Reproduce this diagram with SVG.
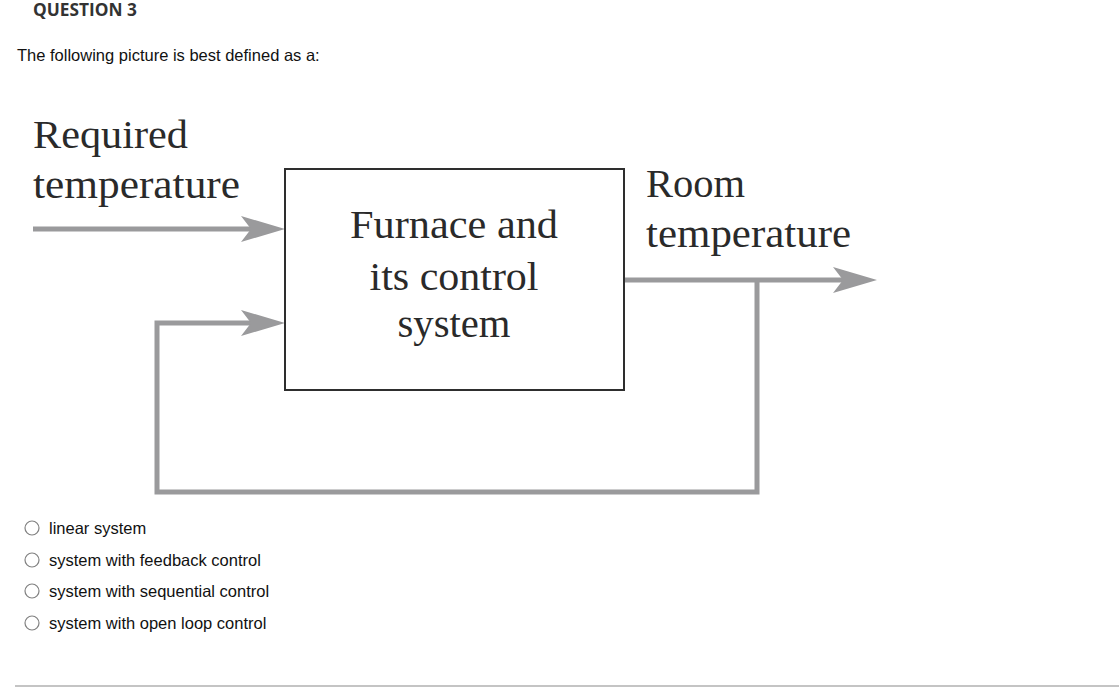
<svg xmlns="http://www.w3.org/2000/svg" width="1119" height="687" viewBox="0 0 1119 687">
<style>
.hdr{font-family:"Open Sans","Liberation Sans",sans-serif;font-weight:bold;font-size:17.3px;fill:#333}
.q{font-family:"Liberation Sans",Arial,sans-serif;font-size:16.5px;fill:#111}
.fig{font-family:"Liberation Serif","Times New Roman",serif;font-size:40px;fill:#2a2a2a}
.wire{fill:none;stroke:#9a9a9c;stroke-width:5;stroke-linejoin:miter}
.radio{fill:#fff;stroke:#808080;stroke-width:1.2}
</style>
<defs>
<marker id="ah" markerUnits="userSpaceOnUse" viewBox="-14 -15 48 30" markerWidth="48" markerHeight="30" refX="0" refY="0" orient="auto">
<path d="M32,0 L-12,-13 L-2,0 L-12,13 Z" fill="#9a9a9c"/>
</marker>
</defs>
<rect width="1119" height="687" fill="#fff"/>
<text class="hdr" x="33" y="16">QUESTION 3</text>
<text class="q" x="17" y="61">The following picture is best defined as a:</text>

<g id="connectors">
<line class="wire" x1="33" y1="229" x2="253" y2="229" marker-end="url(#ah)"/>
<line class="wire" x1="624" y1="280" x2="845" y2="280" marker-end="url(#ah)"/>
<polyline class="wire" points="757,280 757,492 157,492 157,323 253,323" marker-end="url(#ah)"/>
</g>

<g id="required-label">
<text class="fig" x="33" y="148" textLength="155" lengthAdjust="spacingAndGlyphs">Required</text>
<text class="fig" x="33" y="198" textLength="207" lengthAdjust="spacingAndGlyphs">temperature</text>
</g>

<g id="furnace">
<rect x="285" y="169" width="339" height="221" fill="#fff" stroke="#2e2e2e" stroke-width="2"/>
<text class="fig" x="454" y="238" text-anchor="middle" textLength="208" lengthAdjust="spacingAndGlyphs">Furnace and</text>
<text class="fig" x="454" y="290" text-anchor="middle" textLength="169" lengthAdjust="spacingAndGlyphs">its control</text>
<text class="fig" x="454" y="337" text-anchor="middle" textLength="113" lengthAdjust="spacingAndGlyphs">system</text>
</g>

<g id="room-label">
<text class="fig" x="646" y="197" textLength="99" lengthAdjust="spacingAndGlyphs">Room</text>
<text class="fig" x="646" y="247" textLength="205" lengthAdjust="spacingAndGlyphs">temperature</text>
</g>

<g id="options">
<circle class="radio" cx="32" cy="528" r="7"/>
<text class="q" x="49" y="534">linear system</text>
<circle class="radio" cx="32" cy="560" r="7"/>
<text class="q" x="49" y="566">system with feedback control</text>
<circle class="radio" cx="32" cy="591" r="7"/>
<text class="q" x="49" y="597">system with sequential control</text>
<circle class="radio" cx="32" cy="623" r="7"/>
<text class="q" x="49" y="629">system with open loop control</text>
</g>
<line x1="15" y1="686" x2="1119" y2="686" stroke="#c4c4c4" stroke-width="2"/>
</svg>
